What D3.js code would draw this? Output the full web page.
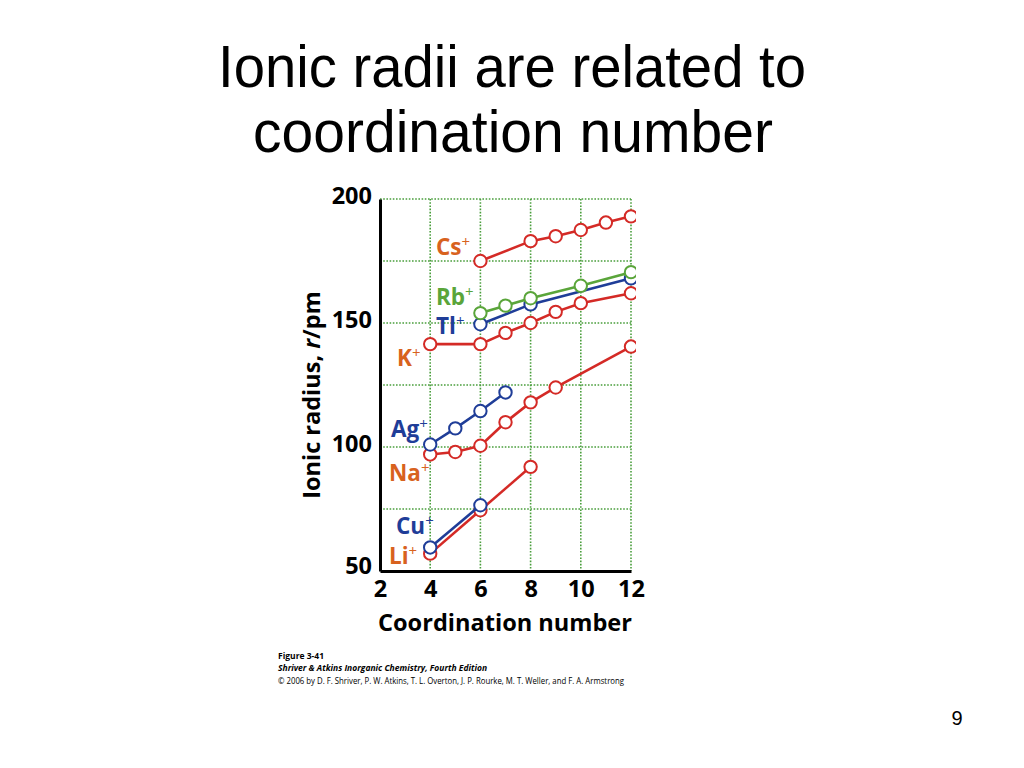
<!DOCTYPE html>
<html><head><meta charset="utf-8">
<script src="https://cdn.jsdelivr.net/npm/d3@7"></script>
<style>body{margin:0;background:#fff;} svg{display:block;}</style>
</head><body>
<svg id="c" width="1024" height="768"></svg>
<script>
// ---- data ----
const xTicks = [2,4,6,8,10,12];
const yTicks = [50,100,150,200];
const yGrid = [75,100,125,150,175,200];
const cnCs = [6,8,9,10,11,12],     rCs = [175,183,185,187.5,190.5,193];
const cnK  = [4,6,7,8,9,10,12],    rK  = [141.5,141.5,146,150,154.5,158,162];
const cnTl = [6,8,12],             rTl = [149.5,157.5,168];
const cnRb = [6,7,8,10,12],        rRb = [154,157,160,165,170.5];
const cnNa = [4,5,6,7,8,9,12],     rNa = [97,98,100.5,110,118,124,140.5];
const cnAg = [4,5,6,7],            rAg = [101,107.5,114.5,122];
const cnLi = [4,6,8],              rLi = [57,74.5,92];
const cnCu = [4,6],                rCu = [59.5,76.5];
const ionNames = ["K","Cs","Tl","Rb","Na","Ag","Li","Cu"];

const RED="#d42a26", ORANGE="#d8621e", GREEN="#5aa53a", BLUE="#1f3d98", GRID="#4a9e3c";
const series = [
  {name:"K", cn:cnK, r:rK, c:RED},
  {name:"Cs", cn:cnCs, r:rCs, c:RED},
  {name:"Tl", cn:cnTl, r:rTl, c:BLUE},
  {name:"Rb", cn:cnRb, r:rRb, c:GREEN},
  {name:"Na", cn:cnNa, r:rNa, c:RED},
  {name:"Ag", cn:cnAg, r:rAg, c:BLUE},
  {name:"Li", cn:cnLi, r:rLi, c:RED},
  {name:"Cu", cn:cnCu, r:rCu, c:BLUE}
];
const labels = [
  {t:"Cs", x:436, y:255, c:ORANGE},
  {t:"Rb", x:436, y:305, c:GREEN},
  {t:"Tl", x:436, y:334, c:BLUE},
  {t:"K",  x:397, y:366, c:ORANGE},
  {t:"Ag", x:391, y:437, c:BLUE},
  {t:"Na", x:389, y:481, c:ORANGE},
  {t:"Cu", x:396, y:534, c:BLUE},
  {t:"Li", x:389, y:564, c:ORANGE}
];

const svg = d3.select("#c");
const x = d3.scaleLinear().domain([2,12]).range([380,631]);
const y = d3.scaleLinear().domain([50,200]).range([571,199]);

// title
const TT = "'Liberation Sans', Arial, sans-serif";
svg.append("text").attr("x",512).attr("y",87).attr("text-anchor","middle")
  .attr("font-family",TT).attr("font-size",60).attr("textLength",588).attr("lengthAdjust","spacingAndGlyphs")
  .text("Ionic radii are related to");
svg.append("text").attr("x",513).attr("y",152).attr("text-anchor","middle")
  .attr("font-family",TT).attr("font-size",60).attr("textLength",520).attr("lengthAdjust","spacingAndGlyphs")
  .text("coordination number");

// grid
const g = svg.append("g");
g.selectAll("line.vg").data(xTicks.slice(1)).join("line")
  .attr("x1",d=>x(d)).attr("x2",d=>x(d)).attr("y1",y(200)).attr("y2",y(50))
  .attr("stroke",GRID).attr("stroke-width",1.6).attr("stroke-dasharray","1.6,1.6");
g.selectAll("line.hg").data(yGrid).join("line")
  .attr("x1",x(2)).attr("x2",x(12)).attr("y1",d=>y(d)).attr("y2",d=>y(d))
  .attr("stroke",GRID).attr("stroke-width",1.6).attr("stroke-dasharray","1.6,1.6");

// axes
const TF = "'Open Sans', 'DejaVu Sans', sans-serif";
const ax = svg.append("g").attr("transform",`translate(0,${y(50)})`)
  .call(d3.axisBottom(x).tickValues(xTicks).tickSize(0).tickPadding(9).tickFormat(d3.format("d")));
const ay = svg.append("g").attr("transform",`translate(${x(2)},0)`)
  .call(d3.axisLeft(y).tickValues(yTicks).tickSize(0).tickPadding(8).tickFormat(d3.format("d")));
[ax,ay].forEach(a=>{
  a.select(".domain").attr("stroke","#000").attr("stroke-width",3);
  a.selectAll("text").attr("font-family",TF).attr("font-weight",700).attr("font-size",23.5).attr("fill","#000");
});
ay.selectAll(".tick text").attr("dy","0.2em");
ay.selectAll(".tick").filter(d=>d===50).select("text").attr("dy","0.1em");

svg.append("text").attr("x",505).attr("y",631).attr("text-anchor","middle")
  .attr("font-family",TF).attr("font-weight",700).attr("font-size",23.5)
  .attr("textLength",254).attr("lengthAdjust","spacingAndGlyphs").text("Coordination number");
const yt = svg.append("text").attr("transform","translate(320,395) rotate(-90)").attr("text-anchor","middle")
  .attr("font-family",TF).attr("font-weight",700).attr("font-size",23.5);
yt.append("tspan").text("Ionic radius, ");
yt.append("tspan").attr("font-style","italic").text("r");
yt.append("tspan").text("/pm");

// clip for data
svg.append("clipPath").attr("id","clip").append("rect")
  .attr("x",360).attr("y",180).attr("width",x(12)+5-360).attr("height",420);
const dg = svg.append("g").attr("clip-path","url(#clip)");
const line = d3.line().x(d=>x(d[0])).y(d=>y(d[1]));
series.forEach(s=>{
  const pts = s.cn.map((c,i)=>[c,s.r[i]]);
  const gg = dg.append("g");
  gg.append("path").attr("d",line(pts)).attr("fill","none").attr("stroke",s.c).attr("stroke-width",2.6);
  gg.selectAll("circle").data(pts).join("circle")
    .attr("cx",d=>x(d[0])).attr("cy",d=>y(d[1])).attr("r",6.2)
    .attr("fill","#fff").attr("stroke",s.c).attr("stroke-width",2);
});

// ion labels
labels.forEach(l=>{
  const t = svg.append("text").attr("x",l.x).attr("y",l.y).attr("font-family",TF)
    .attr("font-weight",700).attr("font-size",22.5).attr("fill",l.c);
  t.append("tspan").text(l.t);
  t.append("tspan").attr("dy",-8).attr("font-size",15).attr("font-weight",400).text("+");
});

// caption
const CF = "'Open Sans', 'DejaVu Sans', sans-serif";
svg.append("text").attr("x",278).attr("y",659).attr("font-family",CF).attr("font-size",8.5).attr("font-weight",700).text("Figure 3-41");
svg.append("text").attr("x",278).attr("y",671).attr("font-family",CF).attr("font-size",8.5).attr("font-weight",700).attr("font-style","italic").text("Shriver & Atkins Inorganic Chemistry, Fourth Edition");
svg.append("text").attr("x",278).attr("y",684).attr("font-family",CF).attr("font-size",8.5).attr("textLength",346).attr("lengthAdjust","spacingAndGlyphs")
  .text("© 2006 by D. F. Shriver, P. W. Atkins, T. L. Overton, J. P. Rourke, M. T. Weller, and F. A. Armstrong");

// page number
svg.append("text").attr("x",957).attr("y",725).attr("text-anchor","middle")
  .attr("font-family","'Liberation Sans', Arial, sans-serif").attr("font-size",20).text("9");
</script>
</body></html>
